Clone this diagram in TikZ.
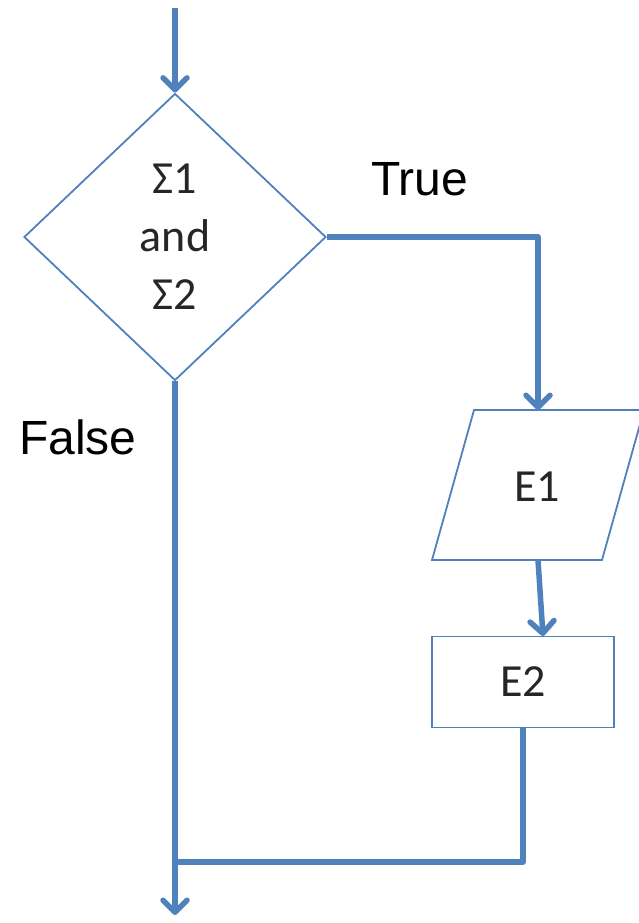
\documentclass[tikz,border=0pt]{standalone}
\usepackage{fontspec}
\setmainfont{Carlito}
\newfontfamily\labelfont{Liberation Sans}
\usetikzlibrary{shapes.geometric,arrows.meta}
\definecolor{flowblue}{HTML}{4F81BD}
\definecolor{inktext}{HTML}{262626}
\tikzset{
  shapeline/.style={draw=flowblue, line width=1.8pt, line join=miter},
  flow/.style={draw=flowblue, line width=5.5pt, line join=round},
  flowarrow/.style={flow, -{Straight Barb[length=12pt,width=24pt,round]}},
  boxtext/.style={text=inktext, font=\fontsize{46}{58}\selectfont, inner sep=0pt},
  branchlabel/.style={text=black, font=\labelfont\fontsize{48}{52}\selectfont, inner sep=0pt, anchor=base west},
}
\begin{document}
\begin{tikzpicture}[x=1pt, y=-1pt]
\useasboundingbox (0,0) rectangle (638,923);

% decision
\node[shapeline, shape=diamond, minimum width=302pt, minimum height=287pt, inner sep=0pt,
      boxtext, align=center] (cond) at (175,237) {Σ1\\and\\Σ2};

% input/output box E1
\coordinate (p-top) at (538,410);
\coordinate (p-bot) at (538,560);
\draw[shapeline] (474,410) -- (644,410) -- (602,560) -- (432,560) -- cycle;
\node[boxtext] (e1) at (537,487) {E1};

% process box E2
\node[shapeline, boxtext, minimum width=182pt, minimum height=91pt] (e2) at (523,682) {E2};
\coordinate (e2-in) at (543,636);

% free ends and junction
\coordinate (entry) at (175,8);
\coordinate (exit) at (175,915);
\coordinate (join) at (175,862);

% connectors
\draw[flowarrow] (entry) -- (cond.north);
\draw[flowarrow] (cond.east) -| (p-top);
\draw[flowarrow] (p-bot) -- (e2-in);
\draw[flow] (e2.south) |- (join);
\draw[flowarrow] (cond.south) -- (exit);

% branch labels
\node[branchlabel] (lbl-true) at (371,195) {True};
\node[branchlabel] (lbl-false) at (19,454) {False};
\end{tikzpicture}
\end{document}
